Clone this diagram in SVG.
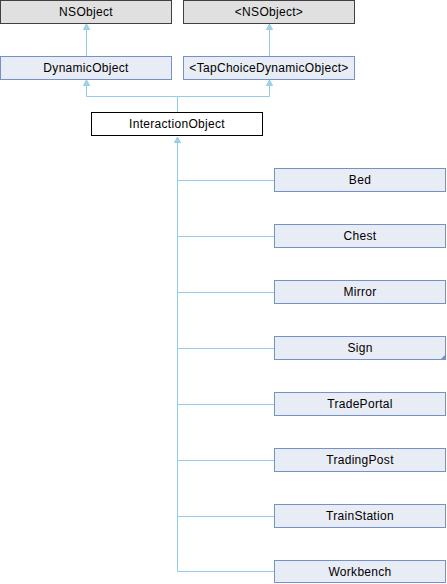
<svg xmlns="http://www.w3.org/2000/svg" width="447" height="584" viewBox="0 0 447 584">
<defs>
<marker id="arr" markerWidth="10" markerHeight="10" refX="6" refY="5" orient="auto" markerUnits="userSpaceOnUse">
<path d="M0.5,2 L6,5 L0.5,8 Z" fill="#a3d0ea" stroke="#93cbea" stroke-width="1"/>
</marker>
<style>
.gray rect{fill:#e0e0e0;stroke:#404040;stroke-width:1}
.blue rect{fill:#e8ecf5;stroke:#7591c7;stroke-width:1}
.cur rect{fill:#ffffff;stroke:#000000;stroke-width:1}
text{font-family:"Liberation Sans",Arial,sans-serif;font-size:12px;letter-spacing:0.3px;text-anchor:middle;fill:#000}
.edge{fill:none;stroke:#93cbea;stroke-width:1}
</style>
</defs>
<g id="connectors">
<path class="edge" d="M86.5,56 L86.5,24" marker-end="url(#arr)"/>
<path class="edge" d="M269.5,56 L269.5,24" marker-end="url(#arr)"/>
<path class="edge" d="M177.5,112 L177.5,96.5 L86.5,96.5 L86.5,80" marker-end="url(#arr)"/>
<path class="edge" d="M177.5,96.5 L269.5,96.5 L269.5,80" marker-end="url(#arr)"/>
<path class="edge" d="M177.5,571.5 L177.5,137" marker-end="url(#arr)"/>
<path class="edge" d="M177.5,180.5 H274.5 M177.5,236.5 H274.5 M177.5,292.5 H274.5 M177.5,348.5 H274.5 M177.5,404.5 H274.5 M177.5,460.5 H274.5 M177.5,516.5 H274.5 M177.5,571.5 H274.5"/>
</g>
<g id="NSObject" class="gray"><rect x="0.5" y="0.5" width="171" height="23"/><text x="86" y="16">NSObject</text></g>
<g id="NSObjectProtocol" class="gray"><rect x="183.5" y="0.5" width="171" height="23"/><text x="269" y="16">&lt;NSObject&gt;</text></g>
<g id="DynamicObject" class="blue"><rect x="0.5" y="56.5" width="171" height="23"/><text x="86" y="72">DynamicObject</text></g>
<g id="TapChoiceDynamicObject" class="blue"><rect x="183.5" y="56.5" width="171" height="23"/><text x="269" y="72">&lt;TapChoiceDynamicObject&gt;</text></g>
<g id="InteractionObject" class="cur"><rect x="91.5" y="112.5" width="171" height="23"/><text x="177" y="128">InteractionObject</text></g>
<g id="Bed" class="blue"><rect x="274.5" y="168.5" width="171" height="23"/><text x="360" y="184">Bed</text></g>
<g id="Chest" class="blue"><rect x="274.5" y="224.5" width="171" height="23"/><text x="360" y="240">Chest</text></g>
<g id="Mirror" class="blue"><rect x="274.5" y="280.5" width="171" height="23"/><text x="360" y="296">Mirror</text></g>
<g id="Sign" class="blue"><rect x="274.5" y="336.5" width="171" height="23"/><polygon points="446,354 446,360 440,360" fill="#7591c7"/><text x="360" y="352">Sign</text></g>
<g id="TradePortal" class="blue"><rect x="274.5" y="392.5" width="171" height="23"/><text x="360" y="408">TradePortal</text></g>
<g id="TradingPost" class="blue"><rect x="274.5" y="448.5" width="171" height="23"/><text x="360" y="464">TradingPost</text></g>
<g id="TrainStation" class="blue"><rect x="274.5" y="504.5" width="171" height="23"/><text x="360" y="520">TrainStation</text></g>
<g id="Workbench" class="blue"><rect x="274.5" y="560.5" width="171" height="22"/><text x="360" y="576">Workbench</text></g>
</svg>
